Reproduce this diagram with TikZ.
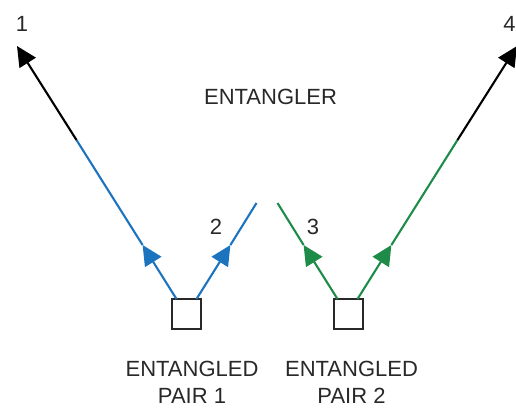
\documentclass[tikz,border=0pt]{standalone}
\usepackage{fontspec}
\setmainfont{Liberation Sans}
\usetikzlibrary{arrows.meta}
\definecolor{beamblue}{RGB}{28,115,190}
\definecolor{beamgreen}{RGB}{30,140,72}
\definecolor{ink}{RGB}{40,40,40}
\begin{document}
\begin{tikzpicture}[x=1pt,y=-1pt,
  lbl/.style={text=ink,font=\fontsize{22}{26}\selectfont,inner sep=0pt},
  pairbox/.style={draw=ink,line width=2pt,minimum width=29pt,minimum height=30pt,inner sep=0pt},
  beam/.style={line width=2.1pt},
  tipped/.style={beam,-{Triangle[length=20pt,width=19pt]}}]
\useasboundingbox (0,0) rectangle (516,407);
% boxes
\node[pairbox] (box1) at (186.5,314) {};
\node[pairbox] (box2) at (348,314) {};
% coordinates along beams
\coordinate (s1) at (176.5,299);
\coordinate (s2) at (196.5,299);
\coordinate (s3) at (337.5,299);
\coordinate (s4) at (357.5,299);
\coordinate (m1) at (142.6,245);
\coordinate (m2) at (230.4,245);
\coordinate (m3) at (303.6,245);
\coordinate (m4) at (391.4,245);
\coordinate (c1) at (76.5,140);
\coordinate (c4) at (457.5,140);
\coordinate (e2) at (256.5,203);
\coordinate (e3) at (277.5,203);
\coordinate (t1) at (17,46);
\coordinate (t4) at (517,46);
% blue beams
\draw[tipped,beamblue] (s1) -- (m1);
\draw[beam,beamblue] (m1) -- (c1);
\draw[tipped,black] (c1) -- (t1);
\draw[tipped,beamblue] (s2) -- (m2);
\draw[beam,beamblue] (m2) -- (e2);
% green beams
\draw[tipped,beamgreen] (s3) -- (m3);
\draw[beam,beamgreen] (m3) -- (e3);
\draw[tipped,beamgreen] (s4) -- (m4);
\draw[beam,beamgreen] (m4) -- (c4);
\draw[tipped,black] (c4) -- (t4);
% labels
\node[lbl] (n1) at (22,24) {1};
\node[lbl] (n4) at (509.5,24) {4};
\node[lbl] (n2) at (216,226.5) {2};
\node[lbl] (n3) at (313,226.5) {3};
\node[lbl,anchor=base] (ent) at (270.5,104) {ENTANGLER};
\node[lbl,anchor=base] (p1a) at (192,376) {ENTANGLED};
\node[lbl,anchor=base] (p1b) at (192,403) {PAIR 1};
\node[lbl,anchor=base] (p2a) at (351.5,376) {ENTANGLED};
\node[lbl,anchor=base] (p2b) at (351.5,403) {PAIR 2};
\end{tikzpicture}
\end{document}
